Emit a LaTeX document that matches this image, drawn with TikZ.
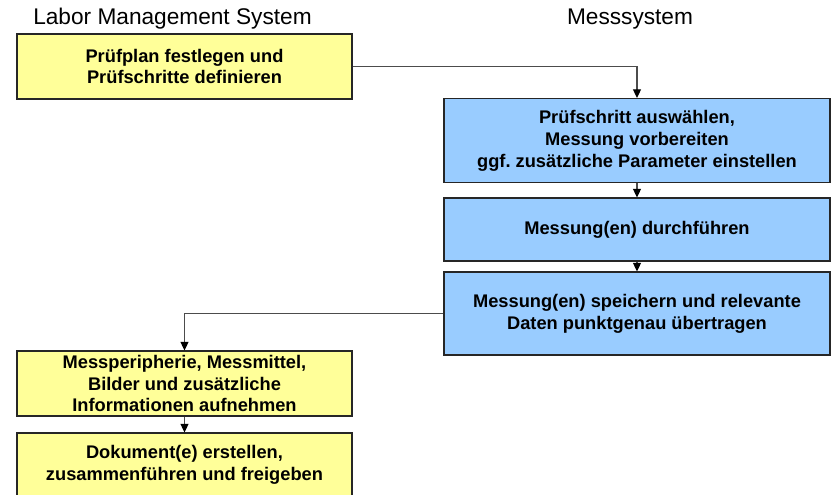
\documentclass[tikz,border=0pt]{standalone}
\usepackage{fontspec}
\setmainfont{Liberation Sans}
\usetikzlibrary{arrows.meta}
\tikzset{>={Triangle[width=6pt,length=6.5pt,color=black]}}
\definecolor{lmscol}{HTML}{FFFF99}
\definecolor{messcol}{HTML}{99CCFF}
\colorlet{linecol}{black!70}
\tikzset{
  stepbox/.style={draw=black!85,line width=0.8pt,align=center,inner sep=0pt,
                  font=\bfseries\fontsize{13.7}{16.4}\selectfont},
  lmsbox/.style={stepbox,fill=lmscol,minimum width=251.25pt,minimum height=48.75pt},
  messbox/.style={stepbox,fill=messcol,minimum width=289.5pt,minimum height=#1},
  messbox/.default=63pt,
  title/.style={font=\fontsize{17}{20}\selectfont},
  flow/.style={->,linecol,line width=1pt}}

\begin{document}
\begin{tikzpicture}[x=0.75pt,y=-0.75pt]
  \useasboundingbox (0,0) rectangle (833,495); % picture frame in px

  % TITLES
  \node[title] (lms)  at (172.5,19) {Labor Management System};
  \node[title] (mess) at (630,19)   {Messsystem};

  % LABOR MANAGEMENT SYSTEM
  \node[lmsbox] (plan)    at (184.5,66.5)  {Prüfplan festlegen und\\ Prüfschritte definieren};
  \node[lmsbox] (capture) at (184.5,383.5) {Messperipherie, Messmittel,\\Bilder und zusätzliche\\Informationen aufnehmen};
  \node[lmsbox,minimum height=48pt] (doc) at (184.5,465) {Dokument(e) erstellen,\\zusammenführen und freigeben};

  % MESSSYSTEM
  \node[messbox] (select) at (637,140.5) {Prüfschritt auswählen,\\Messung vorbereiten\\ggf.\ zusätzliche Parameter einstellen};
  \node[messbox=47.25pt] (measure) at (637,229.5) {Messung(en) durchführen};
  \node[messbox=62.25pt] (save) at (637,313.5) {Messung(en) speichern und relevante\\Daten punktgenau übertragen};

  % CONNECTORS
  \draw[flow] (plan.east) -| (select.north);
  \draw[flow] (select) -- (measure);
  \draw[flow] (measure) -- (save);
  \draw[flow] (save.west) -| (capture.north);
  \draw[flow] (capture) -- (doc);

\end{tikzpicture}
\end{document}
